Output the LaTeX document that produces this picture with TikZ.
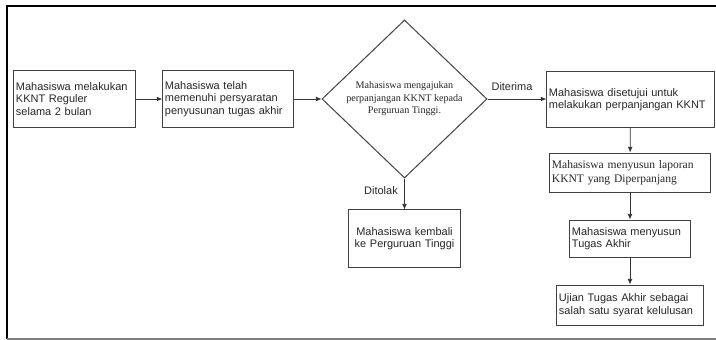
\documentclass[tikz,border=0pt]{standalone}
\usepackage{fontspec}
\usepackage{tikz}
\usetikzlibrary{shapes.geometric,arrows.meta}
\newfontfamily\arialfont{Liberation Sans}
\newfontfamily\timesfont{Liberation Serif}
\tikzset{box/.style={draw=black!75,line width=0.7pt,rectangle,inner xsep=1.5pt,inner ysep=0pt,align=left,text=black!85,font=\arialfont\fontsize{7.8}{8.9}\selectfont},
	serif box/.style={box,font=\timesfont\fontsize{8.2}{9.6}\selectfont},
	decision/.style={draw=black!75,line width=0.7pt,diamond,inner sep=0pt,align=center,text=black!85,font=\timesfont\fontsize{7.2}{8.9}\selectfont},
	flow/.style={draw=black!80,line width=0.6pt,-{Latex[length=4pt,width=3.5pt]}},
	edge label/.style={text=black!85,font=\arialfont\fontsize{7.8}{8.9}\selectfont}}

\begin{document}
\begin{tikzpicture}[x=0.025cm,y=-0.025cm]
			\useasboundingbox (0,0) rectangle (716,340);
			% frame
			\draw[line width=1.1pt] (7,339) -- (7,6) -- (720,6);
			\draw[gray,line width=0.8pt] (7,339) -- (720,339);
			% boxes
			\node[box,text width=2.925cm,minimum height=1.4cm] (reguler) at (74.5,99) {Mahasiswa melakukan\\KKNT Reguler\\selama 2 bulan};
			\node[box,text width=3.15cm,minimum height=1.4cm] (syarat) at (228,99) {Mahasiswa telah\\memenuhi persyaratan\\penyusunan tugas akhir};
			\node[decision,minimum width=4.125cm,minimum height=3.95cm] (ajukan) at (404.5,99) {Mahasiswa mengajukan\\perpanjangan KKNT kepada\\Perguruan Tinggi.};
			\node[box,align=center,text width=2.675cm,minimum height=1.425cm] (kembali) at (404.5,238.5) {Mahasiswa kembali\\ke Perguruan Tinggi};
			\node[box,text width=4.075cm,minimum height=1.375cm] (setuju) at (630.5,99.5) {Mahasiswa disetujui untuk\\melakukan perpanjangan KKNT};
			\node[serif box,text width=3.9cm,minimum height=0.975cm] (laporan) at (630,172.5) {Mahasiswa menyusun laporan\\KKNT yang Diperpanjang};
			\node[box,text width=2.9cm,minimum height=0.925cm] (tugas) at (630,238.5) {Mahasiswa menyusun\\Tugas Akhir};
			\node[box,text width=3.55cm,minimum height=1cm] (ujian) at (630,305) {Ujian Tugas Akhir sebagai\\salah satu syarat kelulusan};
			% connectors
			\draw[flow] (reguler) -- (syarat);
			\draw[flow] (syarat) -- (ajukan);
			\draw[flow] (ajukan.east) -- (setuju.west |- ajukan.east);
			\draw[flow] (ajukan.south) -- (kembali.north);
			\draw[flow] (setuju) -- (laporan);
			\draw[flow] (laporan) -- (tugas);
			\draw[flow] (tugas) -- (ujian);
			\node[edge label] (terima) at (512,87) {Diterima};
			\node[edge label] (tolak) at (381,191) {Ditolak};
		\end{tikzpicture}
\end{document}
